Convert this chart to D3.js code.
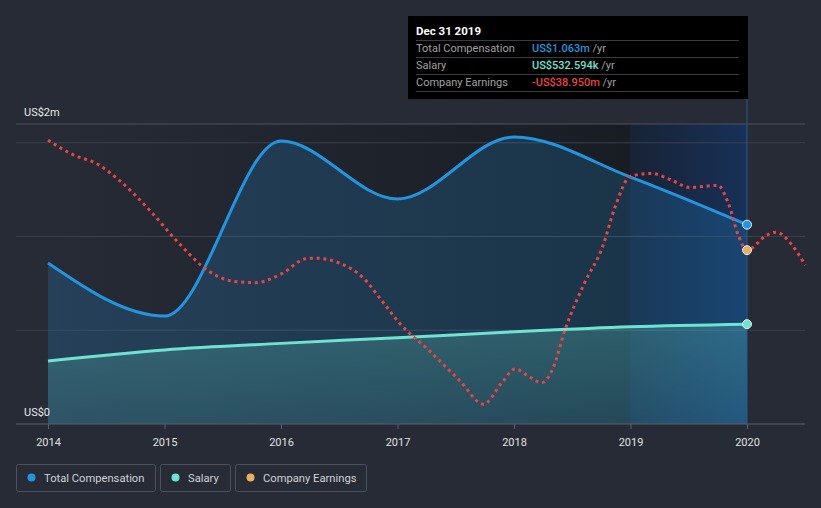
<!DOCTYPE html>
<html><head><meta charset="utf-8">
<script src="https://cdn.jsdelivr.net/npm/d3@7"></script>
<style>
html,body{margin:0;padding:0;background:#262b36;}
svg{display:block;font-family:Roboto,"Noto Sans",sans-serif;}
</style></head>
<body><svg id="chart" width="821" height="508"></svg>
<script>
// ---- data ----
const years = [2014, 2015, 2016, 2017, 2018, 2019, 2020];
const totalComp = [0.859, 0.576, 1.509, 1.200, 1.531, 1.317, 1.063]; // US$m
const salary = [0.336, 0.395, 0.430, 0.460, 0.492, 0.519, 0.5326];   // US$m
const earnDates = [2014.00, 2014.21, 2014.43, 2014.62, 2014.88, 2015.12, 2015.38, 2015.60, 2015.78, 2016.01,
  2016.21, 2016.29, 2016.51, 2016.71, 2016.86, 2017.01, 2017.27, 2017.53, 2017.74, 2017.89,
  2018.01, 2018.11, 2018.24, 2018.33, 2018.44, 2018.60, 2018.76, 2018.87, 2019.00, 2019.18,
  2019.34, 2019.51, 2019.75, 2019.84, 2019.93, 2020.00, 2020.17, 2020.25, 2020.38, 2020.50];
const earnings = [-10.0, -13.77, -16.4, -20.79, -28.69, -37.03, -44.48, -47.19, -47.5, -45.08,
  -41.24, -41.05, -42.45, -46.4, -52.03, -57.9, -65.34, -73.16, -79.48, -74.03,
  -70.19, -71.84, -73.82, -70.34, -59.74, -47.9, -38.08, -27.37, -19.48, -18.77,
  -20.35, -22.45, -21.92, -26.66, -35.45, -38.95, -35.0, -34.21, -37.37, -42.9]; // US$m
const yTickLabels = ["US$0", "US$2m"];
const gridValues = [0.5, 1.0, 1.5];
const tipTitle = "Dec 31 2019";
const tipRows = [
  {label: "Total Compensation", value: "US$1.063m", color: "#2394df"},
  {label: "Salary", value: "US$532.594k", color: "#6fe3d2"},
  {label: "Company Earnings", value: "-US$38.950m", color: "#e84545"}
];
const legendItems = [
  {label: "Total Compensation", color: "#2394df"},
  {label: "Salary", color: "#6fe3d2"},
  {label: "Company Earnings", color: "#e6b062"}
];

// ---- scales ----
const svg = d3.select("#chart");
const x = d3.scaleLinear().domain([2014, 2020]).range([48, 747]);
const y = d3.scaleLinear().domain([0, 1.6]).range([424, 124]);
const yE = d3.scaleLinear().domain([-84.7, 0]).range([424, 102.14]);

const defs = svg.append("defs");
const g1 = defs.append("linearGradient").attr("id", "plotbg").attr("x1", 0).attr("x2", 1).attr("y1", 0).attr("y2", 0);
g1.append("stop").attr("offset", "0").attr("stop-color", "#14171d").attr("stop-opacity", 0);
g1.append("stop").attr("offset", "1").attr("stop-color", "#14171d").attr("stop-opacity", 0.75);
const g2 = defs.append("linearGradient").attr("id", "hl").attr("x1", 0).attr("x2", 1).attr("y1", 0).attr("y2", 0);
g2.append("stop").attr("offset", "0").attr("stop-color", "#17386a").attr("stop-opacity", 0.25);
g2.append("stop").attr("offset", "1").attr("stop-color", "#17386a").attr("stop-opacity", 0.75);
const g3 = defs.append("linearGradient").attr("id", "salfill").attr("x1", 0).attr("x2", 0).attr("y1", 0).attr("y2", 1);
g3.append("stop").attr("offset", "0").attr("stop-color", "#6fe3d2").attr("stop-opacity", 0.24);
g3.append("stop").attr("offset", "1").attr("stop-color", "#6fe3d2").attr("stop-opacity", 0.12);

// plot background
svg.append("rect").attr("x", x(2014)).attr("y", y(1.6)).attr("width", x(2019) - x(2014))
  .attr("height", y(0) - y(1.6)).attr("fill", "url(#plotbg)");
svg.append("rect").attr("x", x(2019)).attr("y", y(1.6)).attr("width", x(2020) - x(2019))
  .attr("height", y(0) - y(1.6)).attr("fill", "#14171d").attr("opacity", 0.75);
svg.append("rect").attr("x", x(2019)).attr("y", y(1.6)).attr("width", x(2020) - x(2019))
  .attr("height", y(0) - y(1.6)).attr("fill", "url(#hl)");

// gridlines
svg.append("g").selectAll("line").data(gridValues).join("line")
  .attr("x1", 16).attr("x2", 805).attr("y1", d => y(d)).attr("y2", d => y(d))
  .attr("stroke", "#3a404c").attr("stroke-width", 1);
svg.append("line").attr("x1", 16).attr("x2", 805).attr("y1", y(1.6)).attr("y2", y(1.6))
  .attr("stroke", "#4c525e").attr("stroke-width", 1);

// areas
const compData = years.map((yr, i) => ({x: yr, v: totalComp[i]}));
const salData = years.map((yr, i) => ({x: yr, v: salary[i]}));
const earnData = earnDates.map((d, i) => ({x: d, v: earnings[i]}));

const area = d3.area().x(d => x(d.x)).y0(y(0)).y1(d => y(d.v)).curve(d3.curveMonotoneX);
const line = d3.line().x(d => x(d.x)).y(d => y(d.v)).curve(d3.curveMonotoneX);

svg.append("path").datum(compData).attr("d", area).attr("fill", "#2394df").attr("fill-opacity", 0.2);
svg.append("path").datum(salData).attr("d", area).attr("fill", "url(#salfill)");

svg.append("path").datum(salData).attr("d", line).attr("fill", "none").attr("stroke", "#6fe3d2").attr("stroke-width", 3);
svg.append("path").datum(compData).attr("d", line).attr("fill", "none").attr("stroke", "#2394df").attr("stroke-width", 3);

const lineE = d3.line().x(d => x(d.x)).y(d => yE(d.v)).curve(d3.curveMonotoneX);
svg.append("path").datum(earnData).attr("d", lineE).attr("fill", "none").attr("stroke", "#e84545")
  .attr("stroke-width", 3).attr("stroke-dasharray", "3,3.8");

// axis
const axis = svg.append("g").attr("transform", `translate(0,${y(0)})`)
  .call(d3.axisBottom(x).tickValues(years).tickFormat(d3.format("d")).tickSize(5).tickSizeOuter(0));
axis.select(".domain").remove();
axis.insert("line", ":first-child").attr("x1", 16).attr("x2", 805).attr("stroke", "#5a606c");
axis.selectAll(".tick line").attr("stroke", "#5a606c");
axis.selectAll(".tick text").attr("fill", "#e0e0e0").attr("font-size", 11).attr("dy", "1.25em")
  .attr("font-family", "Roboto, sans-serif");

// y labels
svg.append("text").attr("x", 24).attr("y", y(0) - 8).attr("fill", "#e8e8e8").attr("font-size", 11).text(yTickLabels[0]);
svg.append("text").attr("x", 24).attr("y", y(1.6) - 8).attr("fill", "#e8e8e8").attr("font-size", 11).text(yTickLabels[1]);

// hover line
svg.append("line").attr("x1", x(2020)).attr("x2", x(2020)).attr("y1", 99).attr("y2", y(0))
  .attr("stroke", "#2a5890").attr("stroke-width", 1);

// end markers
svg.append("circle").attr("cx", x(2020)).attr("cy", y(totalComp[6])).attr("r", 4.5)
  .attr("fill", "#2394df").attr("stroke", "#e8eef5").attr("stroke-width", 1);
svg.append("circle").attr("cx", x(2020)).attr("cy", y(salary[6])).attr("r", 4.5)
  .attr("fill", "#6fe3d2").attr("stroke", "#e8eef5").attr("stroke-width", 1);
svg.append("circle").attr("cx", x(2020)).attr("cy", yE(-38.95)).attr("r", 4.5)
  .attr("fill", "#e6b062").attr("stroke", "#e8eef5").attr("stroke-width", 1);

// tooltip
const tip = svg.append("g");
tip.append("rect").attr("x", 408).attr("y", 16).attr("width", 340).attr("height", 83).attr("fill", "#000");
tip.append("text").attr("x", 416).attr("y", 35).attr("fill", "#fff").attr("font-size", 11.5)
  .attr("font-weight", "bold").text(tipTitle);
[40.5, 57.5, 74.5, 91.5].forEach(ly => {
  tip.append("line").attr("x1", 416).attr("x2", 739).attr("y1", ly).attr("y2", ly).attr("stroke", "#3c3c3c");
});
tipRows.forEach((r, i) => {
  const by = 52 + i * 17;
  tip.append("text").attr("x", 416).attr("y", by).attr("fill", "#a0a0a0").attr("font-size", 11).text(r.label);
  const t = tip.append("text").attr("x", 532).attr("y", by).attr("font-size", 11);
  t.append("tspan").attr("fill", r.color).attr("font-weight", 500).text(r.value);
  t.append("tspan").attr("fill", "#a0a0a0").text(" /yr");
});

// legend
const lg = svg.append("g");
let lx = 16;
const widths = [139, 70, 131];
legendItems.forEach((it, i) => {
  const w = widths[i];
  lg.append("rect").attr("x", lx + 0.5).attr("y", 464.5).attr("width", w).attr("height", 27)
    .attr("rx", 2).attr("fill", "none").attr("stroke", "#4a505c");
  lg.append("circle").attr("cx", lx + 15.5).attr("cy", 477.5).attr("r", 4).attr("fill", it.color);
  lg.append("text").attr("x", lx + 28).attr("y", 481.5).attr("fill", "#cfd2d8").attr("font-size", 11.2).text(it.label);
  lx += w + 5;
});
</script></body></html>
